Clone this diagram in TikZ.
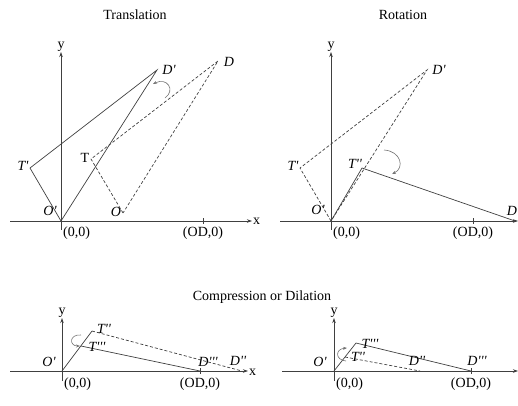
\documentclass[tikz,border=0pt]{standalone}
\usepackage{fontspec}
\setmainfont{Liberation Serif}
\newfontfamily\lblfont{Liberation Serif}
\usetikzlibrary{arrows.meta}
\begin{document}
\begin{tikzpicture}[x=1pt,y=-1pt,
  ln/.style={draw=black!75, line width=0.7pt},
  dsh/.style={draw=black!75, line width=0.7pt, dash pattern=on 3pt off 2pt},
  axis/.style={draw=black!75, line width=0.7pt, -{Stealth[length=5pt,width=3.5pt]}},
  turn/.style={draw=black!55, line width=0.6pt, -{Stealth[length=4pt,width=3pt]}},
  lbl/.style={font=\fontsize{14}{14}\selectfont, inner sep=0pt},
  ilbl/.style={font=\lblfont\fontsize{14}{14}\selectfont\itshape, inner sep=0pt},
  ttl/.style={font=\fontsize{14}{16}\selectfont, inner sep=0pt}]
\useasboundingbox (0,0) rectangle (518,405);

% titles
\node[ttl] (t1) at (135,15) {Translation};
\node[ttl] (t2) at (403,15) {Rotation};
\node[ttl] (t3) at (262,297) {Compression or Dilation};

% ---------- Translation ----------
\coordinate (oA) at (61,221);
\coordinate (xsA) at (10,221);
\coordinate (xeA) at (252,221);
\coordinate (ysA) at (61,230);
\coordinate (yeA) at (61,52);
\draw[axis] (xsA) -- (xeA);
\draw[axis] (ysA) -- (yeA);
\node[lbl, anchor=west] (xA) at (253,221) {x};
\node[lbl, anchor=south] (yA) at (61,52) {y};
\coordinate (tkA1) at (203,218); \coordinate (tkA2) at (203,224);
\draw[ln] (tkA1) -- (tkA2);
\node[lbl, anchor=west] (zA) at (63,233) {(0,0)};
\node[lbl] (odA) at (203,233) {(OD,0)};
\coordinate (TpA) at (30,168);
\coordinate (DpA) at (157,70);
\draw[ln] (oA) -- (TpA) -- (DpA) -- cycle;
\coordinate (OA) at (123,213);
\coordinate (TA) at (91,159);
\coordinate (DA) at (218,61);
\draw[dsh] (OA) -- (TA) -- (DA) -- cycle;
\node[ilbl] (lOpA) at (50,211) {O'};
\node[ilbl] (lTpA) at (23,166) {T'};
\node[ilbl] (lDpA) at (169,70) {D'};
\node[lbl] (lTA) at (85,158) {T};
\node[ilbl] (lOA) at (116,212) {O};
\node[ilbl] (lDA) at (229,62) {D};
\coordinate (cA1) at (165,98);
\coordinate (cA2) at (153,84);
\draw[turn] (cA1) .. controls (176,90) and (167,77) .. (cA2);

% ---------- Rotation ----------
\coordinate (oB) at (331,221);
\coordinate (xsB) at (280,221);
\coordinate (xeB) at (518,221);
\coordinate (ysB) at (331,230);
\coordinate (yeB) at (331,52);
\draw[axis] (xsB) -- (xeB);
\draw[axis] (ysB) -- (yeB);
\node[lbl, anchor=south] (yB) at (331,52) {y};
\coordinate (tkB1) at (473,218); \coordinate (tkB2) at (473,224);
\draw[ln] (tkB1) -- (tkB2);
\node[lbl, anchor=west] (zB) at (333,233) {(0,0)};
\node[lbl] (odB) at (473,233) {(OD,0)};
\coordinate (TpB) at (300,168);
\coordinate (DpB) at (427,70);
\draw[dsh] (oB) -- (TpB) -- (DpB) -- cycle;
\coordinate (TppB) at (362,168);
\coordinate (DB) at (515,221);
\draw[ln] (oB) -- (TppB) -- (DB);
\node[ilbl] (lOpB) at (318,210) {O'};
\node[ilbl] (lTpB) at (293,166) {T'};
\node[ilbl] (lDpB) at (439,70) {D'};
\node[ilbl] (lTppB) at (355,164) {T''};
\node[ilbl] (lDB) at (512,211) {D};
\coordinate (cB1) at (384,150);
\coordinate (cB2) at (392,174);
\draw[turn] (cB1) .. controls (401,151) and (405,168) .. (cB2);

% ---------- Compression (left) ----------
\coordinate (oC) at (62,371);
\coordinate (xsC) at (10,371);
\coordinate (xeC) at (248,371);
\coordinate (ysC) at (62,381);
\coordinate (yeC) at (62,318);
\draw[axis] (xsC) -- (xeC);
\draw[axis] (ysC) -- (yeC);
\node[lbl, anchor=west] (xC) at (249,372) {x};
\node[lbl, anchor=south] (yC) at (62,318) {y};
\coordinate (tkC1) at (200,368); \coordinate (tkC2) at (200,374);
\draw[ln] (tkC1) -- (tkC2);
\node[lbl, anchor=west] (zC) at (64,384) {(0,0)};
\node[lbl] (odC) at (200,384) {(OD,0)};
\coordinate (TppC) at (92,331);
\coordinate (TpppC) at (81,346);
\coordinate (DppC) at (242,371);
\coordinate (DpppC) at (200,371);
\draw[ln] (oC) -- (TppC);
\draw[dsh] (TppC) -- (DppC);
\draw[ln] (TpppC) -- (DpppC);
\node[ilbl] (lOpC) at (49,362) {O'};
\node[ilbl] (lTppC) at (104,329) {T''};
\node[ilbl] (lTpppC) at (97,347) {T'''};
\node[ilbl] (lDpppC) at (208,362) {D'''};
\node[ilbl] (lDppC) at (238,361) {D''};
\coordinate (cC1) at (81,335);
\coordinate (cC2) at (80,346);
\draw[turn] (cC1) .. controls (69,334) and (69,346) .. (cC2);

% ---------- Compression (right) ----------
\coordinate (oD) at (334,371);
\coordinate (xsD) at (282,371);
\coordinate (xeD) at (518,371);
\coordinate (ysD) at (334,381);
\coordinate (yeD) at (334,318);
\draw[axis] (xsD) -- (xeD);
\draw[axis] (ysD) -- (yeD);
\node[lbl, anchor=south] (yD) at (334,318) {y};
\coordinate (tkD1) at (471,368); \coordinate (tkD2) at (471,374);
\draw[ln] (tkD1) -- (tkD2);
\node[lbl, anchor=west] (zD) at (336,384) {(0,0)};
\node[lbl] (odD) at (471,384) {(OD,0)};
\coordinate (TpppD) at (356,343);
\coordinate (TppD) at (345,357);
\coordinate (DppD) at (420,371);
\coordinate (DpppD) at (471,371);
\draw[ln] (oD) -- (TpppD) -- (DpppD);
\draw[dsh] (TppD) -- (DppD);
\node[ilbl] (lOpD) at (320,362) {O'};
\node[ilbl] (lTpppD) at (370,344) {T'''};
\node[ilbl] (lTppD) at (358,357) {T''};
\node[ilbl] (lDppD) at (417,361) {D''};
\node[ilbl] (lDpppD) at (477,361) {D'''};
\coordinate (cD1) at (346,361);
\coordinate (cD2) at (347,348);
\draw[turn] (cD1) .. controls (335,360) and (335,349) .. (cD2);
\end{tikzpicture}
\end{document}
